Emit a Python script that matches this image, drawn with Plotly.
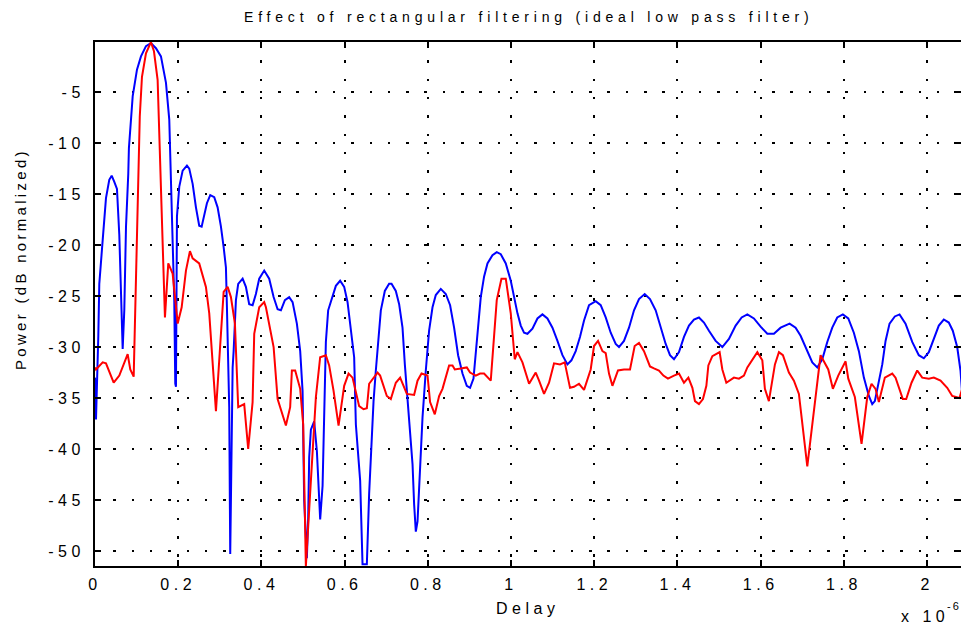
import plotly.graph_objects as go

# ---------------- data (delay in microseconds, power in dB) ----------------
blue_delay_us = [0.000, 0.0024, 0.0079, 0.0103, 0.0185, 0.0223, 0.0264, 0.0343, 0.0401, 0.0464,
                 0.0528, 0.0584, 0.0641, 0.0665, 0.0704, 0.0745, 0.0800, 0.0815, 0.0906, 0.1009,
                 0.1105, 0.1225, 0.1345, 0.1465, 0.1585, 0.1706, 0.1785, 0.1838, 0.1866, 0.1905,
                 0.1929, 0.1946, 0.1970, 0.2025, 0.2107, 0.2210, 0.2265, 0.2347, 0.2426, 0.2505,
                 0.2563, 0.2626, 0.2690, 0.2770, 0.2866, 0.2947, 0.3027, 0.3092, 0.3147, 0.3171,
                 0.3202, 0.3226, 0.3250, 0.3279, 0.3308, 0.3332, 0.3387, 0.3442, 0.3548, 0.3627,
                 0.3706, 0.3788, 0.3867, 0.3947, 0.4067, 0.4187, 0.4293, 0.4389, 0.4468, 0.4564,
                 0.4667, 0.4749, 0.4852, 0.4932, 0.4989, 0.5028, 0.5092, 0.5124, 0.5148, 0.5189,
                 0.5268, 0.5333, 0.5388, 0.5412, 0.5470, 0.5494, 0.5525, 0.5549, 0.5604, 0.5710,
                 0.5789, 0.5892, 0.5989, 0.6070, 0.6149, 0.6229, 0.6270, 0.6373, 0.6430, 0.6534,
                 0.6589, 0.6647, 0.6695, 0.6750, 0.6791, 0.6870, 0.6966, 0.7069, 0.7127, 0.7230,
                 0.7310, 0.7391, 0.7447, 0.7511, 0.7574, 0.7632, 0.7670, 0.7711, 0.7752, 0.7790,
                 0.7872, 0.7951, 0.8030, 0.8112, 0.8191, 0.8311, 0.8431, 0.8535, 0.8631, 0.8727,
                 0.8833, 0.8936, 0.9015, 0.9097, 0.9152, 0.9207, 0.9272, 0.9351, 0.9433, 0.9553,
                 0.9656, 0.9753, 0.9873, 0.9993, 1.0072, 1.0154, 1.0233, 1.0312, 1.0394, 1.0514,
                 1.0634, 1.0754, 1.0874, 1.0995, 1.1115, 1.1235, 1.1355, 1.1451, 1.1554, 1.1658,
                 1.1754, 1.1874, 1.2035, 1.2155, 1.2275, 1.2395, 1.2515, 1.2594, 1.2714, 1.2835,
                 1.2955, 1.3075, 1.3212, 1.3339, 1.3476, 1.3596, 1.3716, 1.3820, 1.3916, 1.4036,
                 1.4156, 1.4276, 1.4396, 1.4516, 1.4636, 1.4756, 1.4917, 1.5078, 1.5237, 1.5398,
                 1.5542, 1.5679, 1.5837, 1.5998, 1.6159, 1.6318, 1.6479, 1.6695, 1.6839, 1.6959,
                 1.7079, 1.7240, 1.7360, 1.7480, 1.7600, 1.7720, 1.7840, 1.7975, 1.8105, 1.8239,
                 1.8360, 1.8480, 1.8600, 1.8681, 1.8744, 1.8840, 1.8922, 1.9001, 1.9097, 1.9224,
                 1.9337, 1.9481, 1.9642, 1.9800, 1.9921, 2.0041, 2.0161, 2.0281, 2.0401, 2.0521,
                 2.0617, 2.0723, 2.0802, 2.0850]
blue_power_db = [-33.0, -37.1, -29.0, -23.8, -19.5, -17.1, -15.4, -13.6, -13.2, -13.8,
                 -14.5, -19.0, -26.1, -30.2, -26.4, -18.2, -13.0, -10.5, -5.4, -2.8,
                 -1.5, -0.5, -0.2, -0.7, -1.5, -4.1, -7.7, -14.6, -20.2, -25.4,
                 -33.6, -33.9, -17.2, -14.3, -12.7, -12.2, -12.5, -14.0, -16.3, -18.1,
                 -18.2, -17.2, -15.9, -15.1, -15.3, -16.3, -18.2, -20.2, -22.2, -26.1,
                 -30.4, -35.9, -50.3, -40.0, -32.0, -30.4, -25.4, -23.8, -23.3, -24.1,
                 -25.8, -25.9, -24.8, -23.3, -22.5, -23.3, -25.1, -26.3, -26.4, -25.4,
                 -25.1, -25.6, -27.7, -30.4, -34.3, -45.1, -50.7, -46.7, -40.8, -38.1,
                 -37.3, -40.2, -44.8, -46.9, -43.6, -38.5, -35.3, -29.5, -26.4, -25.1,
                 -24.0, -23.5, -24.1, -25.6, -28.4, -31.0, -37.6, -43.1, -51.3, -51.3,
                 -44.4, -39.2, -35.3, -32.3, -30.0, -26.4, -24.5, -23.8, -23.8, -24.5,
                 -25.8, -28.1, -31.7, -34.9, -38.2, -41.5, -45.4, -48.1, -47.1, -43.5,
                 -36.9, -32.3, -28.4, -26.1, -24.9, -24.3, -24.8, -25.9, -28.1, -30.8,
                 -32.6, -33.8, -34.0, -33.1, -30.4, -27.7, -25.1, -23.1, -21.8, -21.0,
                 -20.7, -20.9, -21.8, -23.5, -25.1, -26.7, -27.9, -28.6, -28.7, -28.2,
                 -27.2, -26.8, -27.2, -28.1, -29.4, -30.8, -31.7, -31.3, -30.4, -29.0,
                 -27.4, -25.9, -25.5, -25.9, -27.1, -28.6, -29.7, -30.0, -29.4, -28.1,
                 -26.4, -25.3, -24.8, -25.3, -26.4, -28.1, -29.7, -30.8, -31.2, -30.5,
                 -29.0, -27.9, -27.3, -27.1, -27.6, -28.4, -29.4, -30.0, -29.2, -27.9,
                 -27.1, -26.8, -27.2, -28.0, -28.7, -28.7, -28.1, -27.7, -28.1, -28.9,
                 -30.0, -31.5, -32.0, -31.2, -29.5, -28.1, -27.1, -26.8, -27.2, -28.6,
                 -30.4, -33.0, -34.8, -35.6, -35.3, -33.3, -31.7, -29.4, -27.7, -27.0,
                 -26.8, -27.7, -29.5, -30.8, -31.1, -30.5, -29.2, -27.9, -27.3, -27.6,
                 -28.4, -30.0, -32.3, -35.0]

red_delay_us = [0.000, 0.0024, 0.0185, 0.0264, 0.0449, 0.0584, 0.0785, 0.0848, 0.0930, 0.0985,
                0.1021, 0.1052, 0.1076, 0.1129, 0.1225, 0.1345, 0.1417, 0.1505, 0.1561, 0.1681,
                0.1761, 0.1866, 0.1987, 0.2083, 0.2186, 0.2282, 0.2347, 0.2505, 0.2666, 0.2746,
                0.2907, 0.3027, 0.3092, 0.3188, 0.3267, 0.3363, 0.3442, 0.3586, 0.3682, 0.3788,
                0.3827, 0.3947, 0.4067, 0.4108, 0.4293, 0.4389, 0.4588, 0.4691, 0.4732, 0.4811,
                0.4932, 0.5004, 0.5068, 0.5189, 0.5309, 0.5412, 0.5549, 0.5628, 0.5734, 0.5854,
                0.5989, 0.6094, 0.6190, 0.6349, 0.6454, 0.6534, 0.6589, 0.6791, 0.6853, 0.7014,
                0.7110, 0.7230, 0.7334, 0.7495, 0.7670, 0.7752, 0.7848, 0.7992, 0.8054, 0.8167,
                0.8271, 0.8352, 0.8511, 0.8593, 0.8648, 0.8792, 0.8936, 0.9015, 0.9152, 0.9255,
                0.9351, 0.9512, 0.9656, 0.9769, 0.9873, 0.9993, 1.0089, 1.0154, 1.0274, 1.0433,
                1.0593, 1.0673, 1.0793, 1.0913, 1.1033, 1.1177, 1.1290, 1.1417, 1.1513, 1.1633,
                1.1754, 1.1914, 1.1994, 1.2090, 1.2196, 1.2275, 1.2354, 1.2436, 1.2570, 1.2714,
                1.2859, 1.2971, 1.3075, 1.3195, 1.3339, 1.3435, 1.3555, 1.3661, 1.3771, 1.3916,
                1.4036, 1.4156, 1.4262, 1.4358, 1.4420, 1.4516, 1.4612, 1.4694, 1.4742, 1.4838,
                1.5013, 1.5078, 1.5174, 1.5357, 1.5477, 1.5597, 1.5679, 1.5919, 1.6039, 1.6101,
                1.6197, 1.6342, 1.6438, 1.6534, 1.6678, 1.6798, 1.6918, 1.7120, 1.7240, 1.7360,
                1.7439, 1.7624, 1.7735, 1.7864, 1.8040, 1.8105, 1.8263, 1.8424, 1.8561, 1.8664,
                1.8760, 1.8840, 1.8984, 1.9162, 1.9241, 1.9416, 1.9498, 1.9625, 1.9762, 1.9882,
                2.0041, 2.0161, 2.0322, 2.0483, 2.0603, 2.0778, 2.0850]
red_power_db = [-32.0, -32.2, -31.5, -31.6, -33.5, -32.8, -30.7, -32.2, -32.9, -23.8,
                -15.3, -10.7, -7.4, -3.5, -1.2, -0.1, -1.0, -3.8, -10.7, -27.1,
                -21.8, -22.8, -27.7, -26.1, -22.5, -20.6, -21.3, -21.8, -24.1, -26.7,
                -36.3, -28.1, -24.6, -24.1, -25.1, -27.7, -35.9, -35.6, -40.0, -35.4,
                -28.7, -26.1, -25.6, -26.1, -30.0, -35.1, -37.7, -35.9, -32.3, -32.3,
                -34.1, -37.6, -51.5, -43.1, -34.9, -31.0, -30.8, -31.8, -34.3, -37.7,
                -33.8, -32.6, -33.0, -35.8, -36.1, -36.0, -33.6, -32.5, -32.8, -34.8,
                -35.1, -33.5, -33.0, -34.6, -34.7, -33.3, -32.6, -32.8, -35.4, -36.6,
                -34.8, -34.1, -31.8, -31.8, -32.2, -32.1, -32.0, -32.5, -32.8, -32.6,
                -32.6, -33.3, -25.4, -23.3, -23.3, -26.7, -31.2, -30.5, -31.5, -33.6,
                -32.5, -33.3, -34.6, -33.5, -31.6, -31.7, -31.5, -34.0, -33.9, -33.6,
                -34.2, -32.2, -29.9, -29.4, -30.4, -30.6, -32.6, -33.8, -32.3, -32.2,
                -32.2, -29.9, -29.6, -30.4, -31.9, -32.1, -32.3, -32.8, -33.1, -32.8,
                -32.6, -33.5, -33.0, -34.0, -35.3, -35.6, -35.1, -33.8, -31.8, -30.9,
                -30.5, -32.2, -33.5, -33.0, -33.1, -32.8, -32.0, -30.5, -31.3, -34.1,
                -35.3, -31.7, -30.5, -30.8, -32.5, -33.3, -34.6, -41.7, -37.6, -33.3,
                -30.8, -32.2, -34.1, -32.8, -31.4, -33.1, -34.9, -39.5, -34.9, -33.6,
                -34.1, -35.4, -33.0, -32.6, -33.0, -35.1, -35.1, -33.5, -32.3, -33.0,
                -33.1, -33.0, -33.3, -34.0, -34.8, -35.0, -34.0]

x_tick_values = [0, 0.2, 0.4, 0.6, 0.8, 1.0, 1.2, 1.4, 1.6, 1.8, 2.0]
x_tick_labels = ["0", "0.2", "0.4", "0.6", "0.8", "1", "1.2", "1.4", "1.6", "1.8", "2"]
y_tick_values = [-5, -10, -15, -20, -25, -30, -35, -40, -45, -50]
y_tick_labels = ["-5", "-10", "-15", "-20", "-25", "-30", "-35", "-40", "-45", "-50"]

title_text = "Effect of rectangular filtering (ideal low pass filter)"
x_title = "Delay"
y_title = "Power (dB normalized)"
x_exponent = "-6"

# ---------------- styling ----------------
FONT = "Liberation Sans, Arial, Helvetica, sans-serif"
def spaced(s, px=4.5):
    return '<span style="letter-spacing:%spx">%s</span>' % (px, s)

W, H = 961, 626
ML, MR, MT = 95, 0, 42
plot_bottom = 566
MB = H - plot_bottom
plot_w = W - ML - MR
plot_h = H - MT - MB
px_per_us = 416.06
x_range = [0, plot_w / px_per_us]
y_range = [-51.47, -0.09]

fig = go.Figure()
fig.add_trace(go.Scatter(x=blue_delay_us, y=blue_power_db, mode="lines",
                         line=dict(color="#0000ff", width=2), showlegend=False,
                         hoverinfo="skip"))
fig.add_trace(go.Scatter(x=red_delay_us, y=red_power_db, mode="lines",
                         line=dict(color="#ff0000", width=2), showlegend=False,
                         hoverinfo="skip"))
# empty trace on a right-hand axis so that inward tick marks show on the right edge
fig.add_trace(go.Scatter(x=[], y=[], yaxis="y2", showlegend=False, hoverinfo="skip"))

grid_dash = "2.5px,15.8px"
tickfont = dict(family=FONT, size=16, color="black")
fig.update_layout(
    width=W, height=H,
    margin=dict(l=ML, r=MR, t=MT, b=MB, pad=0),
    paper_bgcolor="white", plot_bgcolor="white",
    font=dict(family=FONT, size=16, color="black"),
    xaxis=dict(range=x_range, tickmode="array", tickvals=x_tick_values,
               ticktext=[spaced(t) for t in x_tick_labels],
               ticks="inside", ticklen=6, tickwidth=1.5, tickcolor="black",
               showline=True, linecolor="black", linewidth=2, mirror="ticks",
               showgrid=True, gridcolor="black", gridwidth=1.8, griddash=grid_dash,
               zeroline=False, ticklabelstandoff=3, tickfont=tickfont),
    yaxis=dict(range=y_range, tickmode="array", tickvals=y_tick_values,
               ticktext=[spaced(t) for t in y_tick_labels],
               ticks="inside", ticklen=6, tickwidth=1.5, tickcolor="black",
               showline=True, linecolor="black", linewidth=2, mirror=False,
               showgrid=True, gridcolor="black", gridwidth=1.8, griddash=grid_dash,
               zeroline=False, ticklabelstandoff=5, tickfont=tickfont),
    yaxis2=dict(range=y_range, overlaying="y", side="right", tickmode="array",
                tickvals=y_tick_values, showticklabels=False,
                ticks="inside", ticklen=7, tickwidth=1.5, tickcolor="black",
                showline=False, showgrid=False, zeroline=False),
)

def px_to_paper_x(px):
    return (px - ML) / plot_w

def px_to_paper_y(py):
    return (plot_bottom - py) / plot_h

fig.add_annotation(text=spaced(title_text, 4.8), xref="paper", yref="paper",
                   x=px_to_paper_x(529), y=px_to_paper_y(17), xanchor="center",
                   yanchor="middle", showarrow=False, font=dict(size=14))
fig.add_annotation(text=spaced(x_title, 4.5), xref="paper", yref="paper",
                   x=px_to_paper_x(527), y=px_to_paper_y(608), xanchor="center",
                   yanchor="middle", showarrow=False, font=dict(size=16))
fig.add_annotation(text=spaced(y_title, 3.3), xref="paper", yref="paper",
                   x=px_to_paper_x(20), y=px_to_paper_y(259), xanchor="center",
                   yanchor="middle", textangle=-90, showarrow=False, font=dict(size=15))
fig.add_annotation(text=spaced("x 10", 4.5), xref="paper", yref="paper",
                   x=px_to_paper_x(899), y=px_to_paper_y(616), xanchor="left",
                   yanchor="middle", showarrow=False, font=dict(size=16))
fig.add_annotation(text=spaced(x_exponent, 2), xref="paper", yref="paper",
                   x=px_to_paper_x(945), y=px_to_paper_y(606), xanchor="left",
                   yanchor="middle", showarrow=False, font=dict(size=11))

# remove the default 8px page margin so the figure sits at the window's top-left corner
fig.write_html("out.html",
               config={"displayModeBar": False},
               post_script="document.body.style.margin='0';"
                           "document.body.style.overflow='hidden';")
